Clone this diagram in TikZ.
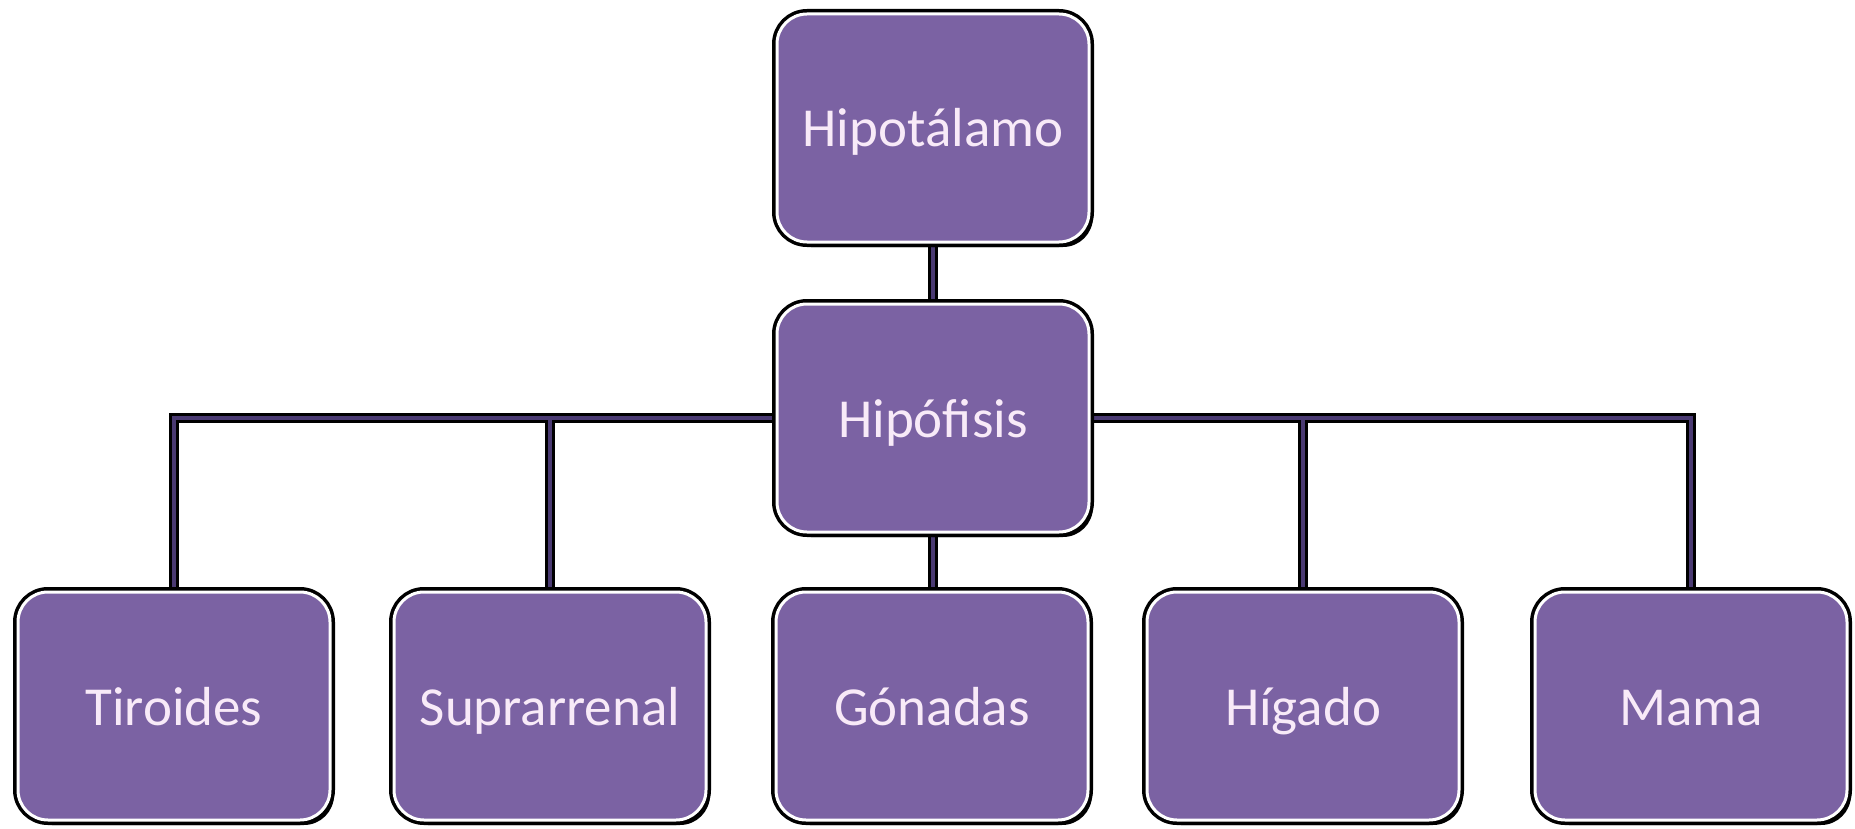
\documentclass[tikz,border=0pt]{standalone}
\usepackage{fontspec}
\setmainfont{Carlito}
\usetikzlibrary{backgrounds,shadows}
\definecolor{boxfill}{HTML}{7B62A3}
\definecolor{boxtext}{HTML}{F8EAF8}
\definecolor{conninner}{HTML}{4A3A72}
\tikzset{
  orgbox/.style={rounded corners=30pt, fill=boxfill, draw=white, line width=3pt,
    minimum width=312pt, minimum height=228pt, inner sep=0pt,
    text height=44pt, text depth=6pt,
    text=boxtext, font=\fontsize{55}{60}\selectfont,
    preaction={draw=black, line width=10pt},
    drop shadow={shadow xshift=4pt, shadow yshift=-5pt, fill=black, opacity=1}},
  connout/.style={draw=black, line width=10pt},
  connin/.style={draw=conninner, line width=4pt}
}
\newcommand\myconnectors[1]{%
  \draw[#1] (hipo.south) -- (hip.north);
  \draw[#1] (hip.west) -| (tir.north);
  \draw[#1] (sup.north) -- (sup.north |- hip.west);
  \draw[#1] (hip.south) -- (hip.south |- gon.north);
  \draw[#1] (hip.east) -| (mam.north);
  \draw[#1] (hig.north) -- (hig.north |- hip.east);
}
\begin{document}
\begin{tikzpicture}[x=1pt,y=-1pt]
\useasboundingbox (0,0) rectangle (1855,829);
\node[orgbox] (hipo) at (933,128) {Hipotálamo};
\node[orgbox] (hip) at (933,418) {Hipófisis};
\node[orgbox] (tir) at (174,706) {Tiroides};
\node[orgbox] (sup) at (550,706) {Suprarrenal};
\node[orgbox] (gon) at (932,706) {Gónadas};
\node[orgbox] (hig) at (1303,706) {Hígado};
\node[orgbox] (mam) at (1691,706) {Mama};
\begin{scope}[on background layer]
  \myconnectors{connout}
  \myconnectors{connin}
\end{scope}
\end{tikzpicture}
\end{document}
